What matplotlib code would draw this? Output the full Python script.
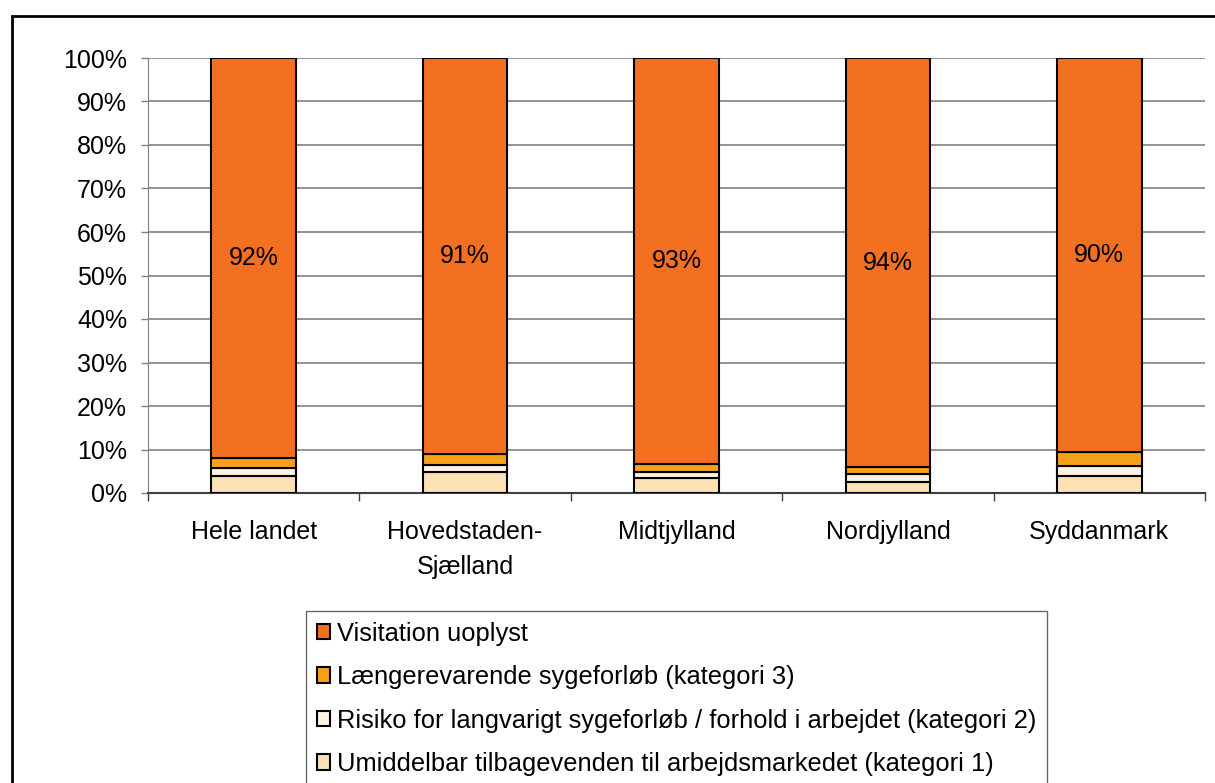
import matplotlib
matplotlib.use("Agg")
import matplotlib.pyplot as plt
from matplotlib.patches import Rectangle, Patch
from matplotlib.ticker import FuncFormatter, FixedLocator
import numpy as np

plt.rcParams['font.family'] = ['Liberation Sans', 'DejaVu Sans']

categories = ["Hele landet", "Hovedstaden-\nSjælland", "Midtjylland", "Nordjylland", "Syddanmark"]
kat1 = [4.0, 4.9, 3.5, 2.6, 4.0]
kat2 = [1.8, 1.5, 1.4, 1.8, 2.3]
kat3 = [2.3, 2.6, 1.8, 1.5, 3.2]
uoplyst = [91.9, 91.0, 93.3, 94.1, 90.5]
uoplyst_labels = ["92%", "91%", "93%", "94%", "90%"]

series_names = ["Umiddelbar tilbagevenden til arbejdsmarkedet (kategori 1)",
                "Risiko for langvarigt sygeforløb / forhold i arbejdet (kategori 2)",
                "Længerevarende sygeforløb (kategori 3)",
                "Visitation uoplyst"]
colors = ["#FCE1B4", "#FEF3E2", "#F7A11A", "#F37021"]

FS = 18
LFS = 18.4
W, H = 1215, 783
fig = plt.figure(figsize=(W / 100, H / 100), dpi=100)
ax = fig.add_axes([148 / W, 1 - 493 / H, (1205 - 148) / W, (493 - 58) / H])

x = np.arange(len(categories))
bottom = np.zeros(len(categories))
series = [kat1, kat2, kat3, uoplyst]
for vals, name, col in zip(series, series_names, colors):
    vals = np.array(vals)
    ax.bar(x, vals, 0.4, bottom=bottom, color=col, edgecolor='black', linewidth=1.5, label=name, zorder=3)
    if name == "Visitation uoplyst":
        for xi, b, v, lab in zip(x, bottom, vals, uoplyst_labels):
            ax.text(xi, b + v / 2, lab, ha='center', va='center', fontsize=FS, zorder=4)
    bottom += vals

ax.set_xlim(-0.5, len(categories) - 0.5)
ax.set_ylim(0, 100)
ax.set_yticks(np.arange(0, 101, 10))
ax.yaxis.set_major_formatter(FuncFormatter(lambda v, p: f"{int(v)}%"))
ax.tick_params(axis='y', labelsize=FS, length=5, width=1, color='#808080', pad=10)
ax.grid(axis='y', color='#808080', linewidth=1.2, zorder=0)

ax.set_xticks(x)
ax.set_xticklabels(categories, fontsize=FS, linespacing=1.6)
ax.tick_params(axis='x', which='major', length=0, pad=19.5)
ax.xaxis.set_minor_locator(FixedLocator(np.arange(-0.5, len(categories), 1.0)))
ax.tick_params(axis='x', which='minor', length=6, width=1, color='#404040')

for s in ['top', 'right']:
    ax.spines[s].set_visible(False)
ax.spines['left'].set_color('#808080')
ax.spines['bottom'].set_color('#404040')
ax.spines['bottom'].set_linewidth(1.5)

# outer frame
fig.patches.append(Rectangle((12 / W, -0.05), 1.1, 1 - 16 / H + 0.05, transform=fig.transFigure,
                             fill=False, edgecolor='black', linewidth=2, zorder=0))

handles = [Patch(facecolor=c, edgecolor='black', linewidth=1.5) for c in colors][::-1]
leg = fig.legend(handles, series_names[::-1], loc='upper left',
                 bbox_to_anchor=(306 / W, 1 - 611 / H), fontsize=LFS, frameon=True,
                 fancybox=False, edgecolor='#404040', handlelength=0.5, handleheight=0.55,
                 handletextpad=0.3, labelspacing=0.76, borderpad=0.42, borderaxespad=0)
leg.get_frame().set_linewidth(1.0)

fig.savefig("out.png", dpi=100)
